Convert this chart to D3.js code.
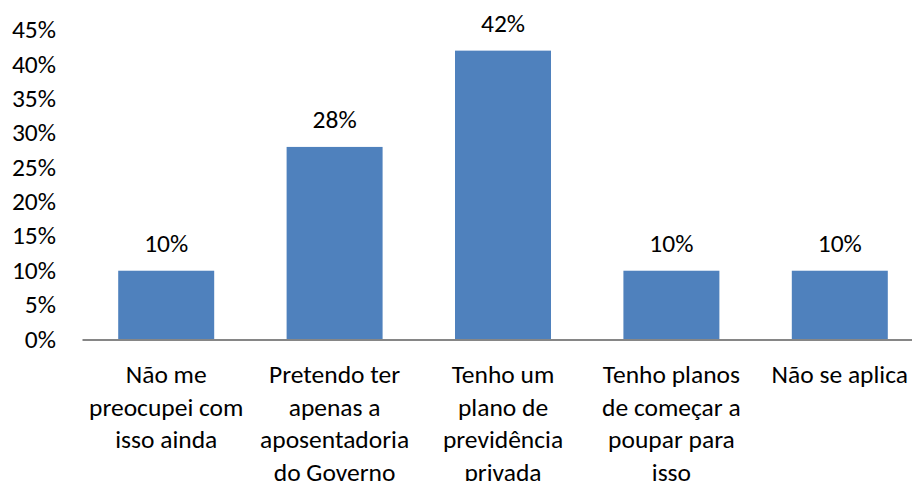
<!DOCTYPE html>
<html>
<head>
<meta charset="utf-8">
<script src="https://cdn.jsdelivr.net/npm/d3@7"></script>
<style>
  body { margin: 0; background: #fff; }
  text { font-family: Carlito, Calibri, Lato, sans-serif; fill: #000; }
</style>
</head>
<body>
<script>
var categories = [
  "Não me preocupei com isso ainda",
  "Pretendo ter apenas a aposentadoria do Governo",
  "Tenho um plano de previdência privada",
  "Tenho planos de começar a poupar para isso",
  "Não se aplica"
];
// line breaks as they appear under the axis
var labelLines = [
  ["Não me", "preocupei com", "isso ainda"],
  ["Pretendo ter", "apenas a", "aposentadoria", "do Governo"],
  ["Tenho um", "plano de", "previdência", "privada"],
  ["Tenho planos", "de começar a", "poupar para", "isso"],
  ["Não se aplica"]
];
var values = [10, 28, 42, 10, 10];
var yTicks = [0, 5, 10, 15, 20, 25, 30, 35, 40, 45];

var width = 912, height = 481;
var fontSize = 25.5;

var svg = d3.select("body").append("svg")
  .attr("width", width)
  .attr("height", height);

var x = d3.scaleBand()
  .domain(categories)
  .range([82, 924])
  .paddingInner(0.43)
  .paddingOuter(0.215);

var y = d3.scaleLinear()
  .domain([0, 45])
  .range([339.5, 30]);

// bars
svg.selectAll("rect.bar")
  .data(values)
  .enter().append("rect")
  .attr("class", "bar")
  .attr("x", function(d, i) { return x(categories[i]); })
  .attr("y", function(d) { return y(d); })
  .attr("width", x.bandwidth())
  .attr("height", function(d) { return y(0) - y(d); })
  .attr("fill", "#4F81BD");

// value labels
svg.selectAll("text.val")
  .data(values)
  .enter().append("text")
  .attr("class", "val")
  .attr("x", function(d, i) { return x(categories[i]) + x.bandwidth() / 2; })
  .attr("y", function(d) { return y(d) - 19; })
  .attr("text-anchor", "middle")
  .style("font-size", fontSize + "px")
  .text(function(d) { return d + "%"; });

// y axis labels (no line, no ticks)
var yAxis = d3.axisLeft(y)
  .tickValues(yTicks)
  .tickSize(0)
  .tickPadding(0)
  .tickFormat(function(d) { return d + "%"; });
var gy = svg.append("g")
  .attr("transform", "translate(56,0)")
  .call(yAxis);
gy.select(".domain").remove();
gy.selectAll("text")
  .style("font-size", fontSize + "px")
  .attr("dy", "0.3em");
gy.attr("font-family", null).attr("font-size", null);

// x axis line
var gx = svg.append("g")
  .attr("transform", "translate(0," + y(0) + ")")
  .call(d3.axisBottom(x).tickSize(0).tickFormat(""));
gx.select(".domain")
  .attr("stroke", "#868686")
  .attr("stroke-width", 2);

// category labels
var lab = svg.selectAll("text.cat")
  .data(categories)
  .enter().append("text")
  .attr("class", "cat")
  .attr("text-anchor", "middle")
  .style("font-size", fontSize + "px")
  .attr("transform", function(d) {
    return "translate(" + (x(d) + x.bandwidth() / 2) + ",383)";
  });
lab.selectAll("tspan")
  .data(function(d, i) { return labelLines[i]; })
  .enter().append("tspan")
  .attr("x", 0)
  .attr("y", function(d, j) { return j * 32.5; })
  .text(function(d) { return d; });
</script>
</body>
</html>
